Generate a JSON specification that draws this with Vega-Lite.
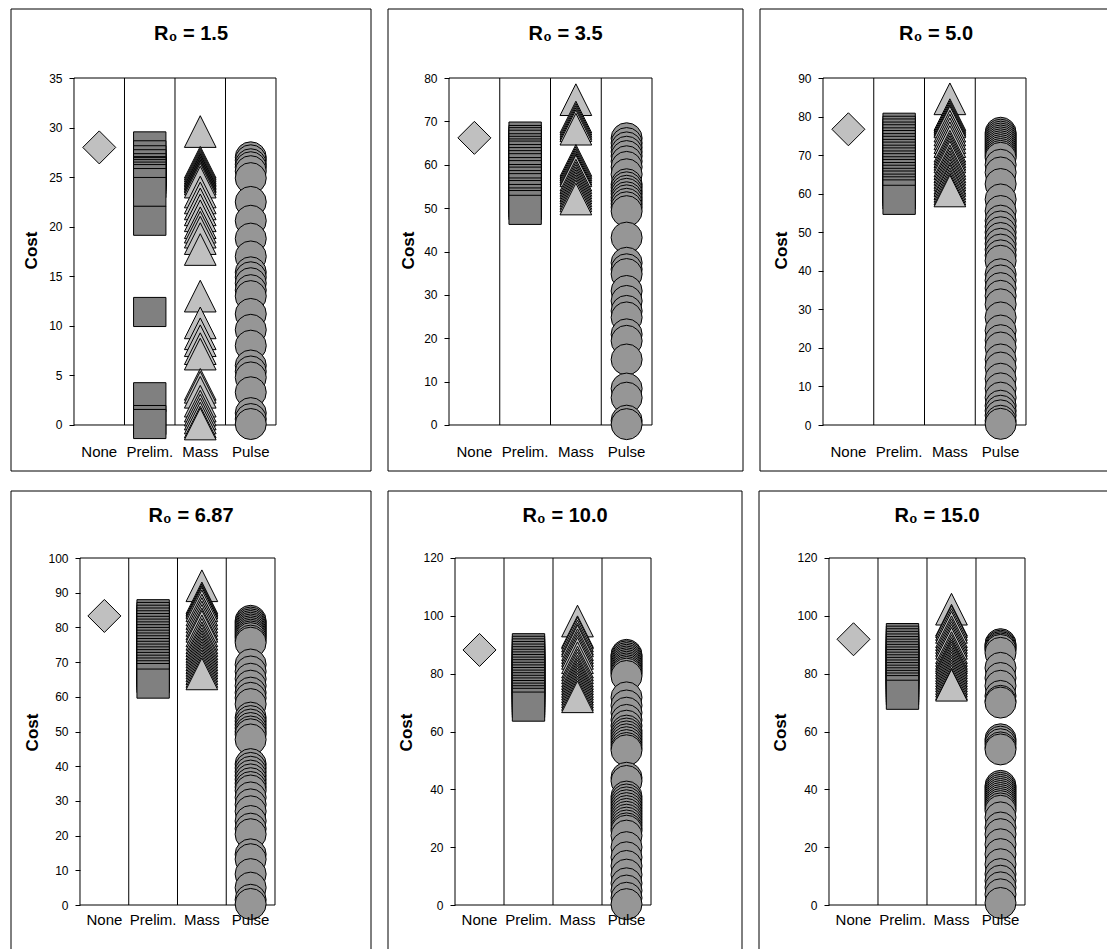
{
  "$schema": "https://vega.github.io/schema/vega-lite/v6.json",
  "padding": {"left": 10, "top": 8, "right": 0, "bottom": 0},
  "background": "#ffffff",
  "config": {
    "view": {"stroke": null},
    "font": "Liberation Sans",
    "title": {"font": "Liberation Sans", "fontSize": 20, "fontWeight": "bold", "color": "#000000", "anchor": "middle", "frame": "group", "offset": -35.5, "baseline": "alphabetic"},
    "axis": {"domain": false, "grid": false, "labelFont": "Liberation Sans", "labelColor": "#000000", "tickColor": "#000000", "titleColor": "#000000", "labelOverlap": false, "labelFlush": false},
    "axisX": {"ticks": false, "tickSize": 0, "labelPadding": 0, "labelBaseline": "middle", "labelFontSize": 15, "labelAngle": 0, "zindex": 2},
    "axisY": {"ticks": true, "tickSize": 5, "tickWidth": 1, "labelPadding": 7, "labelFontSize": 12, "titleFont": "Liberation Sans", "titleFontSize": 17, "titleFontWeight": "bold", "titleAngle": -90, "titleAlign": "center", "titleBaseline": "middle"}
  },
  "datasets": {
    "p1": [
      {"strategy": "None", "cost": 28.0},
      {"strategy": "Prelim.", "cost": 28.1}, {"strategy": "Prelim.", "cost": 27.2}, {"strategy": "Prelim.", "cost": 26.7}, {"strategy": "Prelim.", "cost": 26.3}, {"strategy": "Prelim.", "cost": 25.9}, {"strategy": "Prelim.", "cost": 25.6}, {"strategy": "Prelim.", "cost": 25.5}, {"strategy": "Prelim.", "cost": 25.3}, {"strategy": "Prelim.", "cost": 25.05}, {"strategy": "Prelim.", "cost": 24.8}, {"strategy": "Prelim.", "cost": 24.4}, {"strategy": "Prelim.", "cost": 23.5}, {"strategy": "Prelim.", "cost": 20.6}, {"strategy": "Prelim.", "cost": 11.4}, {"strategy": "Prelim.", "cost": 2.8}, {"strategy": "Prelim.", "cost": 0.5}, {"strategy": "Prelim.", "cost": 0.1},
      {"strategy": "Mass", "cost": 29.6}, {"strategy": "Mass", "cost": 26.5}, {"strategy": "Mass", "cost": 26.3}, {"strategy": "Mass", "cost": 26.1}, {"strategy": "Mass", "cost": 25.9}, {"strategy": "Mass", "cost": 25.75}, {"strategy": "Mass", "cost": 25.6}, {"strategy": "Mass", "cost": 25.45}, {"strategy": "Mass", "cost": 25.3}, {"strategy": "Mass", "cost": 25.15}, {"strategy": "Mass", "cost": 25.0}, {"strategy": "Mass", "cost": 24.8}, {"strategy": "Mass", "cost": 24.5}, {"strategy": "Mass", "cost": 23.5}, {"strategy": "Mass", "cost": 22.9}, {"strategy": "Mass", "cost": 22.3}, {"strategy": "Mass", "cost": 21.7}, {"strategy": "Mass", "cost": 21.1}, {"strategy": "Mass", "cost": 20.4}, {"strategy": "Mass", "cost": 19.95}, {"strategy": "Mass", "cost": 19.45}, {"strategy": "Mass", "cost": 18.8}, {"strategy": "Mass", "cost": 17.7}, {"strategy": "Mass", "cost": 13.0}, {"strategy": "Mass", "cost": 10.3}, {"strategy": "Mass", "cost": 9.2}, {"strategy": "Mass", "cost": 8.5}, {"strategy": "Mass", "cost": 7.7}, {"strategy": "Mass", "cost": 7.15}, {"strategy": "Mass", "cost": 4.1}, {"strategy": "Mass", "cost": 3.8}, {"strategy": "Mass", "cost": 3.3}, {"strategy": "Mass", "cost": 2.4}, {"strategy": "Mass", "cost": 1.9}, {"strategy": "Mass", "cost": 1.5}, {"strategy": "Mass", "cost": 1.1}, {"strategy": "Mass", "cost": 0.7}, {"strategy": "Mass", "cost": 0.3}, {"strategy": "Mass", "cost": 0.1},
      {"strategy": "Pulse", "cost": 27.0}, {"strategy": "Pulse", "cost": 26.7}, {"strategy": "Pulse", "cost": 26.3}, {"strategy": "Pulse", "cost": 26.0}, {"strategy": "Pulse", "cost": 25.6}, {"strategy": "Pulse", "cost": 24.9}, {"strategy": "Pulse", "cost": 22.5}, {"strategy": "Pulse", "cost": 20.6}, {"strategy": "Pulse", "cost": 18.8}, {"strategy": "Pulse", "cost": 17.0}, {"strategy": "Pulse", "cost": 15.4}, {"strategy": "Pulse", "cost": 14.9}, {"strategy": "Pulse", "cost": 14.3}, {"strategy": "Pulse", "cost": 13.6}, {"strategy": "Pulse", "cost": 13.0}, {"strategy": "Pulse", "cost": 11.2}, {"strategy": "Pulse", "cost": 9.6}, {"strategy": "Pulse", "cost": 8.0}, {"strategy": "Pulse", "cost": 6.0}, {"strategy": "Pulse", "cost": 5.4}, {"strategy": "Pulse", "cost": 4.8}, {"strategy": "Pulse", "cost": 3.3}, {"strategy": "Pulse", "cost": 1.2}, {"strategy": "Pulse", "cost": 0.6}, {"strategy": "Pulse", "cost": 0.1}
    ],
    "p2": [
      {"strategy": "None", "cost": 66.2},
      {"strategy": "Prelim.", "cost": 66.5}, {"strategy": "Prelim.", "cost": 65.7}, {"strategy": "Prelim.", "cost": 65.2}, {"strategy": "Prelim.", "cost": 64.6}, {"strategy": "Prelim.", "cost": 63.8}, {"strategy": "Prelim.", "cost": 63.2}, {"strategy": "Prelim.", "cost": 62.6}, {"strategy": "Prelim.", "cost": 62.1}, {"strategy": "Prelim.", "cost": 61.3}, {"strategy": "Prelim.", "cost": 60.6}, {"strategy": "Prelim.", "cost": 59.9}, {"strategy": "Prelim.", "cost": 59.2}, {"strategy": "Prelim.", "cost": 58.3}, {"strategy": "Prelim.", "cost": 57.6}, {"strategy": "Prelim.", "cost": 56.7}, {"strategy": "Prelim.", "cost": 56.1}, {"strategy": "Prelim.", "cost": 55.3}, {"strategy": "Prelim.", "cost": 54.6}, {"strategy": "Prelim.", "cost": 53.6}, {"strategy": "Prelim.", "cost": 53.0}, {"strategy": "Prelim.", "cost": 52.1}, {"strategy": "Prelim.", "cost": 51.3}, {"strategy": "Prelim.", "cost": 50.7}, {"strategy": "Prelim.", "cost": 49.6},
      {"strategy": "Mass", "cost": 75.0}, {"strategy": "Mass", "cost": 71.0}, {"strategy": "Mass", "cost": 70.5}, {"strategy": "Mass", "cost": 70.0}, {"strategy": "Mass", "cost": 69.5}, {"strategy": "Mass", "cost": 69.0}, {"strategy": "Mass", "cost": 68.2}, {"strategy": "Mass", "cost": 61.0}, {"strategy": "Mass", "cost": 60.5}, {"strategy": "Mass", "cost": 60.0}, {"strategy": "Mass", "cost": 59.5}, {"strategy": "Mass", "cost": 59.0}, {"strategy": "Mass", "cost": 58.6}, {"strategy": "Mass", "cost": 57.6}, {"strategy": "Mass", "cost": 57.0}, {"strategy": "Mass", "cost": 56.4}, {"strategy": "Mass", "cost": 55.8}, {"strategy": "Mass", "cost": 55.2}, {"strategy": "Mass", "cost": 54.6}, {"strategy": "Mass", "cost": 54.0}, {"strategy": "Mass", "cost": 53.4}, {"strategy": "Mass", "cost": 52.8}, {"strategy": "Mass", "cost": 52.1},
      {"strategy": "Pulse", "cost": 66.1}, {"strategy": "Pulse", "cost": 65.0}, {"strategy": "Pulse", "cost": 64.0}, {"strategy": "Pulse", "cost": 63.0}, {"strategy": "Pulse", "cost": 62.0}, {"strategy": "Pulse", "cost": 60.8}, {"strategy": "Pulse", "cost": 59.5}, {"strategy": "Pulse", "cost": 57.8}, {"strategy": "Pulse", "cost": 55.5}, {"strategy": "Pulse", "cost": 54.8}, {"strategy": "Pulse", "cost": 54.0}, {"strategy": "Pulse", "cost": 53.3}, {"strategy": "Pulse", "cost": 52.5}, {"strategy": "Pulse", "cost": 51.8}, {"strategy": "Pulse", "cost": 51.0}, {"strategy": "Pulse", "cost": 50.2}, {"strategy": "Pulse", "cost": 49.3}, {"strategy": "Pulse", "cost": 43.2}, {"strategy": "Pulse", "cost": 37.4}, {"strategy": "Pulse", "cost": 35.9}, {"strategy": "Pulse", "cost": 34.8}, {"strategy": "Pulse", "cost": 30.9}, {"strategy": "Pulse", "cost": 28.6}, {"strategy": "Pulse", "cost": 26.3}, {"strategy": "Pulse", "cost": 24.8}, {"strategy": "Pulse", "cost": 20.9}, {"strategy": "Pulse", "cost": 19.4}, {"strategy": "Pulse", "cost": 15.1}, {"strategy": "Pulse", "cost": 8.4}, {"strategy": "Pulse", "cost": 6.3}, {"strategy": "Pulse", "cost": 1.0}, {"strategy": "Pulse", "cost": 0.2}
    ],
    "p3": [
      {"strategy": "None", "cost": 76.7},
      {"strategy": "Prelim.", "cost": 77.1}, {"strategy": "Prelim.", "cost": 76.3}, {"strategy": "Prelim.", "cost": 75.6}, {"strategy": "Prelim.", "cost": 74.8}, {"strategy": "Prelim.", "cost": 74.1}, {"strategy": "Prelim.", "cost": 73.3}, {"strategy": "Prelim.", "cost": 72.6}, {"strategy": "Prelim.", "cost": 71.8}, {"strategy": "Prelim.", "cost": 71.1}, {"strategy": "Prelim.", "cost": 70.3}, {"strategy": "Prelim.", "cost": 69.6}, {"strategy": "Prelim.", "cost": 68.8}, {"strategy": "Prelim.", "cost": 68.1}, {"strategy": "Prelim.", "cost": 67.3}, {"strategy": "Prelim.", "cost": 66.6}, {"strategy": "Prelim.", "cost": 65.8}, {"strategy": "Prelim.", "cost": 65.1}, {"strategy": "Prelim.", "cost": 64.3}, {"strategy": "Prelim.", "cost": 63.6}, {"strategy": "Prelim.", "cost": 62.8}, {"strategy": "Prelim.", "cost": 62.1}, {"strategy": "Prelim.", "cost": 61.3}, {"strategy": "Prelim.", "cost": 60.6}, {"strategy": "Prelim.", "cost": 59.8}, {"strategy": "Prelim.", "cost": 58.4},
      {"strategy": "Mass", "cost": 84.6}, {"strategy": "Mass", "cost": 80.5}, {"strategy": "Mass", "cost": 80.0}, {"strategy": "Mass", "cost": 79.5}, {"strategy": "Mass", "cost": 79.0}, {"strategy": "Mass", "cost": 78.6}, {"strategy": "Mass", "cost": 77.5}, {"strategy": "Mass", "cost": 76.5}, {"strategy": "Mass", "cost": 75.5}, {"strategy": "Mass", "cost": 74.5}, {"strategy": "Mass", "cost": 73.5}, {"strategy": "Mass", "cost": 72.3}, {"strategy": "Mass", "cost": 71.6}, {"strategy": "Mass", "cost": 70.9}, {"strategy": "Mass", "cost": 70.2}, {"strategy": "Mass", "cost": 69.5}, {"strategy": "Mass", "cost": 68.5}, {"strategy": "Mass", "cost": 67.8}, {"strategy": "Mass", "cost": 67.0}, {"strategy": "Mass", "cost": 66.3}, {"strategy": "Mass", "cost": 65.5}, {"strategy": "Mass", "cost": 64.8}, {"strategy": "Mass", "cost": 64.0}, {"strategy": "Mass", "cost": 63.4}, {"strategy": "Mass", "cost": 62.6}, {"strategy": "Mass", "cost": 61.9}, {"strategy": "Mass", "cost": 61.2}, {"strategy": "Mass", "cost": 60.7},
      {"strategy": "Pulse", "cost": 75.8}, {"strategy": "Pulse", "cost": 75.3}, {"strategy": "Pulse", "cost": 74.8}, {"strategy": "Pulse", "cost": 74.3}, {"strategy": "Pulse", "cost": 73.8}, {"strategy": "Pulse", "cost": 73.3}, {"strategy": "Pulse", "cost": 72.8}, {"strategy": "Pulse", "cost": 72.3}, {"strategy": "Pulse", "cost": 71.8}, {"strategy": "Pulse", "cost": 71.3}, {"strategy": "Pulse", "cost": 70.8}, {"strategy": "Pulse", "cost": 70.3}, {"strategy": "Pulse", "cost": 69.8}, {"strategy": "Pulse", "cost": 69.3}, {"strategy": "Pulse", "cost": 67.5}, {"strategy": "Pulse", "cost": 65.5}, {"strategy": "Pulse", "cost": 62.5}, {"strategy": "Pulse", "cost": 58.5}, {"strategy": "Pulse", "cost": 55.5}, {"strategy": "Pulse", "cost": 53.0}, {"strategy": "Pulse", "cost": 51.5}, {"strategy": "Pulse", "cost": 50.0}, {"strategy": "Pulse", "cost": 48.5}, {"strategy": "Pulse", "cost": 47.0}, {"strategy": "Pulse", "cost": 45.5}, {"strategy": "Pulse", "cost": 44.0}, {"strategy": "Pulse", "cost": 42.6}, {"strategy": "Pulse", "cost": 39.1}, {"strategy": "Pulse", "cost": 37.5}, {"strategy": "Pulse", "cost": 35.5}, {"strategy": "Pulse", "cost": 33.5}, {"strategy": "Pulse", "cost": 31.3}, {"strategy": "Pulse", "cost": 27.9}, {"strategy": "Pulse", "cost": 24.5}, {"strategy": "Pulse", "cost": 22.0}, {"strategy": "Pulse", "cost": 20.1}, {"strategy": "Pulse", "cost": 17.0}, {"strategy": "Pulse", "cost": 14.9}, {"strategy": "Pulse", "cost": 12.0}, {"strategy": "Pulse", "cost": 9.5}, {"strategy": "Pulse", "cost": 7.1}, {"strategy": "Pulse", "cost": 5.0}, {"strategy": "Pulse", "cost": 3.7}, {"strategy": "Pulse", "cost": 2.5}, {"strategy": "Pulse", "cost": 1.1}, {"strategy": "Pulse", "cost": 0.3}
    ],
    "p4": [
      {"strategy": "None", "cost": 83.3},
      {"strategy": "Prelim.", "cost": 83.8}, {"strategy": "Prelim.", "cost": 83.0}, {"strategy": "Prelim.", "cost": 82.2}, {"strategy": "Prelim.", "cost": 81.4}, {"strategy": "Prelim.", "cost": 80.6}, {"strategy": "Prelim.", "cost": 79.8}, {"strategy": "Prelim.", "cost": 79.0}, {"strategy": "Prelim.", "cost": 78.2}, {"strategy": "Prelim.", "cost": 77.4}, {"strategy": "Prelim.", "cost": 76.6}, {"strategy": "Prelim.", "cost": 75.8}, {"strategy": "Prelim.", "cost": 75.0}, {"strategy": "Prelim.", "cost": 74.2}, {"strategy": "Prelim.", "cost": 73.4}, {"strategy": "Prelim.", "cost": 72.6}, {"strategy": "Prelim.", "cost": 71.8}, {"strategy": "Prelim.", "cost": 71.0}, {"strategy": "Prelim.", "cost": 70.2}, {"strategy": "Prelim.", "cost": 69.4}, {"strategy": "Prelim.", "cost": 68.6}, {"strategy": "Prelim.", "cost": 67.8}, {"strategy": "Prelim.", "cost": 67.0}, {"strategy": "Prelim.", "cost": 66.2}, {"strategy": "Prelim.", "cost": 65.4}, {"strategy": "Prelim.", "cost": 63.8},
      {"strategy": "Mass", "cost": 92.0}, {"strategy": "Mass", "cost": 88.5}, {"strategy": "Mass", "cost": 88.0}, {"strategy": "Mass", "cost": 87.5}, {"strategy": "Mass", "cost": 87.0}, {"strategy": "Mass", "cost": 86.2}, {"strategy": "Mass", "cost": 85.0}, {"strategy": "Mass", "cost": 84.0}, {"strategy": "Mass", "cost": 83.0}, {"strategy": "Mass", "cost": 82.0}, {"strategy": "Mass", "cost": 81.0}, {"strategy": "Mass", "cost": 80.3}, {"strategy": "Mass", "cost": 79.0}, {"strategy": "Mass", "cost": 78.0}, {"strategy": "Mass", "cost": 77.0}, {"strategy": "Mass", "cost": 76.2}, {"strategy": "Mass", "cost": 75.3}, {"strategy": "Mass", "cost": 74.5}, {"strategy": "Mass", "cost": 73.7}, {"strategy": "Mass", "cost": 72.9}, {"strategy": "Mass", "cost": 72.1}, {"strategy": "Mass", "cost": 71.3}, {"strategy": "Mass", "cost": 70.5}, {"strategy": "Mass", "cost": 69.7}, {"strategy": "Mass", "cost": 68.9}, {"strategy": "Mass", "cost": 68.1}, {"strategy": "Mass", "cost": 67.3}, {"strategy": "Mass", "cost": 66.6},
      {"strategy": "Pulse", "cost": 81.9}, {"strategy": "Pulse", "cost": 81.4}, {"strategy": "Pulse", "cost": 80.9}, {"strategy": "Pulse", "cost": 80.4}, {"strategy": "Pulse", "cost": 79.9}, {"strategy": "Pulse", "cost": 79.4}, {"strategy": "Pulse", "cost": 78.9}, {"strategy": "Pulse", "cost": 78.4}, {"strategy": "Pulse", "cost": 77.9}, {"strategy": "Pulse", "cost": 77.4}, {"strategy": "Pulse", "cost": 76.9}, {"strategy": "Pulse", "cost": 76.2}, {"strategy": "Pulse", "cost": 75.6}, {"strategy": "Pulse", "cost": 69.3}, {"strategy": "Pulse", "cost": 67.3}, {"strategy": "Pulse", "cost": 65.2}, {"strategy": "Pulse", "cost": 63.2}, {"strategy": "Pulse", "cost": 61.2}, {"strategy": "Pulse", "cost": 59.7}, {"strategy": "Pulse", "cost": 57.9}, {"strategy": "Pulse", "cost": 54.0}, {"strategy": "Pulse", "cost": 53.0}, {"strategy": "Pulse", "cost": 52.0}, {"strategy": "Pulse", "cost": 51.0}, {"strategy": "Pulse", "cost": 50.0}, {"strategy": "Pulse", "cost": 49.2}, {"strategy": "Pulse", "cost": 47.7}, {"strategy": "Pulse", "cost": 40.6}, {"strategy": "Pulse", "cost": 39.5}, {"strategy": "Pulse", "cost": 38.4}, {"strategy": "Pulse", "cost": 37.3}, {"strategy": "Pulse", "cost": 36.2}, {"strategy": "Pulse", "cost": 35.1}, {"strategy": "Pulse", "cost": 34.0}, {"strategy": "Pulse", "cost": 33.0}, {"strategy": "Pulse", "cost": 31.0}, {"strategy": "Pulse", "cost": 29.0}, {"strategy": "Pulse", "cost": 27.0}, {"strategy": "Pulse", "cost": 24.2}, {"strategy": "Pulse", "cost": 22.0}, {"strategy": "Pulse", "cost": 20.4}, {"strategy": "Pulse", "cost": 14.6}, {"strategy": "Pulse", "cost": 13.2}, {"strategy": "Pulse", "cost": 8.9}, {"strategy": "Pulse", "cost": 5.0}, {"strategy": "Pulse", "cost": 1.5}, {"strategy": "Pulse", "cost": 0.3}
    ],
    "p5": [
      {"strategy": "None", "cost": 88.2},
      {"strategy": "Prelim.", "cost": 88.8}, {"strategy": "Prelim.", "cost": 87.9}, {"strategy": "Prelim.", "cost": 87.0}, {"strategy": "Prelim.", "cost": 86.1}, {"strategy": "Prelim.", "cost": 85.2}, {"strategy": "Prelim.", "cost": 84.3}, {"strategy": "Prelim.", "cost": 83.4}, {"strategy": "Prelim.", "cost": 82.5}, {"strategy": "Prelim.", "cost": 81.6}, {"strategy": "Prelim.", "cost": 80.7}, {"strategy": "Prelim.", "cost": 79.8}, {"strategy": "Prelim.", "cost": 78.9}, {"strategy": "Prelim.", "cost": 78.0}, {"strategy": "Prelim.", "cost": 77.1}, {"strategy": "Prelim.", "cost": 76.2}, {"strategy": "Prelim.", "cost": 75.3}, {"strategy": "Prelim.", "cost": 74.4}, {"strategy": "Prelim.", "cost": 73.5}, {"strategy": "Prelim.", "cost": 72.6}, {"strategy": "Prelim.", "cost": 71.7}, {"strategy": "Prelim.", "cost": 70.8}, {"strategy": "Prelim.", "cost": 69.9}, {"strategy": "Prelim.", "cost": 68.6},
      {"strategy": "Mass", "cost": 98.2}, {"strategy": "Mass", "cost": 94.5}, {"strategy": "Mass", "cost": 94.0}, {"strategy": "Mass", "cost": 93.0}, {"strategy": "Mass", "cost": 92.0}, {"strategy": "Mass", "cost": 91.3}, {"strategy": "Mass", "cost": 90.0}, {"strategy": "Mass", "cost": 89.0}, {"strategy": "Mass", "cost": 88.0}, {"strategy": "Mass", "cost": 87.0}, {"strategy": "Mass", "cost": 85.5}, {"strategy": "Mass", "cost": 84.0}, {"strategy": "Mass", "cost": 83.0}, {"strategy": "Mass", "cost": 82.0}, {"strategy": "Mass", "cost": 80.9}, {"strategy": "Mass", "cost": 80.0}, {"strategy": "Mass", "cost": 79.1}, {"strategy": "Mass", "cost": 78.2}, {"strategy": "Mass", "cost": 77.3}, {"strategy": "Mass", "cost": 76.4}, {"strategy": "Mass", "cost": 75.5}, {"strategy": "Mass", "cost": 74.6}, {"strategy": "Mass", "cost": 73.7}, {"strategy": "Mass", "cost": 72.8}, {"strategy": "Mass", "cost": 72.0},
      {"strategy": "Pulse", "cost": 86.5}, {"strategy": "Pulse", "cost": 86.0}, {"strategy": "Pulse", "cost": 85.4}, {"strategy": "Pulse", "cost": 84.8}, {"strategy": "Pulse", "cost": 84.2}, {"strategy": "Pulse", "cost": 83.6}, {"strategy": "Pulse", "cost": 83.0}, {"strategy": "Pulse", "cost": 82.4}, {"strategy": "Pulse", "cost": 81.8}, {"strategy": "Pulse", "cost": 81.2}, {"strategy": "Pulse", "cost": 80.6}, {"strategy": "Pulse", "cost": 80.0}, {"strategy": "Pulse", "cost": 79.2}, {"strategy": "Pulse", "cost": 71.8}, {"strategy": "Pulse", "cost": 69.0}, {"strategy": "Pulse", "cost": 66.5}, {"strategy": "Pulse", "cost": 64.0}, {"strategy": "Pulse", "cost": 62.0}, {"strategy": "Pulse", "cost": 60.3}, {"strategy": "Pulse", "cost": 59.3}, {"strategy": "Pulse", "cost": 58.3}, {"strategy": "Pulse", "cost": 57.3}, {"strategy": "Pulse", "cost": 56.3}, {"strategy": "Pulse", "cost": 55.3}, {"strategy": "Pulse", "cost": 54.3}, {"strategy": "Pulse", "cost": 53.5}, {"strategy": "Pulse", "cost": 44.0}, {"strategy": "Pulse", "cost": 42.9}, {"strategy": "Pulse", "cost": 37.5}, {"strategy": "Pulse", "cost": 36.5}, {"strategy": "Pulse", "cost": 35.5}, {"strategy": "Pulse", "cost": 34.5}, {"strategy": "Pulse", "cost": 33.5}, {"strategy": "Pulse", "cost": 32.5}, {"strategy": "Pulse", "cost": 31.5}, {"strategy": "Pulse", "cost": 30.5}, {"strategy": "Pulse", "cost": 29.5}, {"strategy": "Pulse", "cost": 28.5}, {"strategy": "Pulse", "cost": 27.5}, {"strategy": "Pulse", "cost": 26.5}, {"strategy": "Pulse", "cost": 25.7}, {"strategy": "Pulse", "cost": 24.0}, {"strategy": "Pulse", "cost": 20.0}, {"strategy": "Pulse", "cost": 16.5}, {"strategy": "Pulse", "cost": 13.5}, {"strategy": "Pulse", "cost": 10.5}, {"strategy": "Pulse", "cost": 7.5}, {"strategy": "Pulse", "cost": 5.0}, {"strategy": "Pulse", "cost": 2.5}, {"strategy": "Pulse", "cost": 0.3}
    ],
    "p6": [
      {"strategy": "None", "cost": 91.9},
      {"strategy": "Prelim.", "cost": 92.3}, {"strategy": "Prelim.", "cost": 91.4}, {"strategy": "Prelim.", "cost": 90.5}, {"strategy": "Prelim.", "cost": 89.6}, {"strategy": "Prelim.", "cost": 88.7}, {"strategy": "Prelim.", "cost": 87.8}, {"strategy": "Prelim.", "cost": 86.9}, {"strategy": "Prelim.", "cost": 86.0}, {"strategy": "Prelim.", "cost": 85.1}, {"strategy": "Prelim.", "cost": 84.2}, {"strategy": "Prelim.", "cost": 83.3}, {"strategy": "Prelim.", "cost": 82.4}, {"strategy": "Prelim.", "cost": 81.5}, {"strategy": "Prelim.", "cost": 80.6}, {"strategy": "Prelim.", "cost": 79.7}, {"strategy": "Prelim.", "cost": 78.8}, {"strategy": "Prelim.", "cost": 77.9}, {"strategy": "Prelim.", "cost": 77.0}, {"strategy": "Prelim.", "cost": 76.1}, {"strategy": "Prelim.", "cost": 75.2}, {"strategy": "Prelim.", "cost": 74.3}, {"strategy": "Prelim.", "cost": 72.7},
      {"strategy": "Mass", "cost": 102.3}, {"strategy": "Mass", "cost": 98.5}, {"strategy": "Mass", "cost": 98.0}, {"strategy": "Mass", "cost": 97.0}, {"strategy": "Mass", "cost": 96.0}, {"strategy": "Mass", "cost": 94.5}, {"strategy": "Mass", "cost": 93.5}, {"strategy": "Mass", "cost": 92.5}, {"strategy": "Mass", "cost": 91.5}, {"strategy": "Mass", "cost": 90.5}, {"strategy": "Mass", "cost": 89.0}, {"strategy": "Mass", "cost": 88.0}, {"strategy": "Mass", "cost": 87.0}, {"strategy": "Mass", "cost": 86.2}, {"strategy": "Mass", "cost": 85.5}, {"strategy": "Mass", "cost": 84.6}, {"strategy": "Mass", "cost": 83.7}, {"strategy": "Mass", "cost": 82.8}, {"strategy": "Mass", "cost": 81.9}, {"strategy": "Mass", "cost": 81.0}, {"strategy": "Mass", "cost": 80.1}, {"strategy": "Mass", "cost": 79.2}, {"strategy": "Mass", "cost": 78.3}, {"strategy": "Mass", "cost": 77.4}, {"strategy": "Mass", "cost": 76.5}, {"strategy": "Mass", "cost": 76.0},
      {"strategy": "Pulse", "cost": 90.2}, {"strategy": "Pulse", "cost": 89.7}, {"strategy": "Pulse", "cost": 89.2}, {"strategy": "Pulse", "cost": 88.7}, {"strategy": "Pulse", "cost": 88.2}, {"strategy": "Pulse", "cost": 87.2}, {"strategy": "Pulse", "cost": 82.0}, {"strategy": "Pulse", "cost": 78.5}, {"strategy": "Pulse", "cost": 75.8}, {"strategy": "Pulse", "cost": 72.3}, {"strategy": "Pulse", "cost": 70.6}, {"strategy": "Pulse", "cost": 70.0}, {"strategy": "Pulse", "cost": 57.3}, {"strategy": "Pulse", "cost": 56.5}, {"strategy": "Pulse", "cost": 55.6}, {"strategy": "Pulse", "cost": 54.5}, {"strategy": "Pulse", "cost": 53.8}, {"strategy": "Pulse", "cost": 41.2}, {"strategy": "Pulse", "cost": 40.5}, {"strategy": "Pulse", "cost": 39.8}, {"strategy": "Pulse", "cost": 39.1}, {"strategy": "Pulse", "cost": 38.4}, {"strategy": "Pulse", "cost": 37.7}, {"strategy": "Pulse", "cost": 37.0}, {"strategy": "Pulse", "cost": 36.3}, {"strategy": "Pulse", "cost": 35.6}, {"strategy": "Pulse", "cost": 34.9}, {"strategy": "Pulse", "cost": 34.2}, {"strategy": "Pulse", "cost": 33.4}, {"strategy": "Pulse", "cost": 32.6}, {"strategy": "Pulse", "cost": 30.3}, {"strategy": "Pulse", "cost": 26.8}, {"strategy": "Pulse", "cost": 24.5}, {"strategy": "Pulse", "cost": 21.0}, {"strategy": "Pulse", "cost": 17.6}, {"strategy": "Pulse", "cost": 14.1}, {"strategy": "Pulse", "cost": 10.7}, {"strategy": "Pulse", "cost": 8.4}, {"strategy": "Pulse", "cost": 6.1}, {"strategy": "Pulse", "cost": 3.7}, {"strategy": "Pulse", "cost": 0.7}
    ]
  },
  "spacing": 18,
  "vconcat": [
    {
      "spacing": 17,
      "bounds": "flush",
      "hconcat": [
        {
          "width": 360, "height": 462,
          "title": {"text": "R₀ = 1.5"},
          "layer": [
            {
              "data": {"values": [{}]},
              "layer": [
                {"mark": {"type": "rule", "color": "#000000"}, "encoding": {"x": {"datum": -0.74752, "type": "quantitative", "scale": {"domain": [-0.74752, 6.38119], "nice": false, "zero": false}, "axis": null}, "y": {"datum": -4.6398, "type": "quantitative", "axis": null}, "y2": {"datum": 41.9597}}},
                {"mark": {"type": "rule", "color": "#000000"}, "encoding": {"x": {"datum": 6.38119, "type": "quantitative", "axis": null}, "y": {"datum": -4.6398, "type": "quantitative", "axis": null}, "y2": {"datum": 41.9597}}},
                {"mark": {"type": "rule", "color": "#000000"}, "encoding": {"x": {"datum": -0.74752, "type": "quantitative", "axis": null}, "x2": {"datum": 6.38119}, "y": {"datum": 41.9597, "type": "quantitative", "axis": null}}},
                {"mark": {"type": "rule", "color": "#000000"}, "encoding": {"x": {"datum": -0.74752, "type": "quantitative", "axis": null}, "x2": {"datum": 6.38119}, "y": {"datum": -4.6398, "type": "quantitative", "axis": null}}},
                {"mark": {"type": "rect", "fillOpacity": 0, "stroke": "#000000", "strokeWidth": 1}, "encoding": {"x": {"datum": 0.5, "type": "quantitative", "axis": null}, "x2": {"datum": 4.5}, "y": {"datum": 0, "type": "quantitative", "axis": null}, "y2": {"datum": 35}}},
                {"mark": {"type": "rule", "color": "#000000"}, "encoding": {"x": {"datum": 1.5, "type": "quantitative", "axis": null}, "y": {"datum": 0, "type": "quantitative", "axis": null}, "y2": {"datum": 35}}},
                {"mark": {"type": "rule", "color": "#000000"}, "encoding": {"x": {"datum": 2.5, "type": "quantitative", "axis": null}, "y": {"datum": 0, "type": "quantitative", "axis": null}, "y2": {"datum": 35}}},
                {"mark": {"type": "rule", "color": "#000000"}, "encoding": {"x": {"datum": 3.5, "type": "quantitative", "axis": null}, "y": {"datum": 0, "type": "quantitative", "axis": null}, "y2": {"datum": 35}}}
              ]
            },
            {
              "data": {"name": "p1"},
              "mark": {"type": "point", "filled": true, "stroke": "#000000", "strokeWidth": 1, "opacity": 1},
              "encoding": {
                "x": {"field": "strategy", "type": "nominal", "scale": {"type": "band", "domain": ["None", "Prelim.", "Mass", "Pulse"], "range": [63, 265], "paddingInner": 0, "paddingOuter": 0}, "axis": {"orient": "bottom", "offset": -20, "title": null, "zindex": 2}},
                "y": {"field": "cost", "type": "quantitative", "scale": {"domain": [-4.6398, 41.9597], "nice": false, "zero": false}, "axis": {"orient": "left", "offset": -63, "values": [0, 5, 10, 15, 20, 25, 30, 35], "labelFontSize": 12, "title": "Cost", "titleX": -42.5, "titleY": 241}},
                "shape": {"field": "strategy", "type": "nominal", "scale": {"domain": ["None", "Prelim.", "Mass", "Pulse"], "range": ["diamond", "M-1,-0.9L1,-0.9L1,0.9L-1,0.9Z", "M0,-1L1,1L-1,1Z", "circle"]}, "legend": null},
                "fill": {"field": "strategy", "type": "nominal", "scale": {"domain": ["None", "Prelim.", "Mass", "Pulse"], "range": ["#c0c0c0", "#808080", "#c0c0c0", "#969696"]}, "legend": null},
                "size": {"field": "strategy", "type": "ordinal", "scale": {"domain": ["None", "Prelim.", "Mass", "Pulse"], "range": [1089, 961, 930, 1089]}, "legend": null},
                "order": {"field": "cost", "sort": "descending"}
              }
            }
          ],
          "resolve": {"scale": {"x": "independent"}, "axis": {"x": "independent", "y": "independent"}}
        },
        {
          "width": 355, "height": 462,
          "title": {"text": "R₀ = 3.5"},
          "layer": [
            {
              "data": {"values": [{}]},
              "layer": [
                {"mark": {"type": "rule", "color": "#000000"}, "encoding": {"x": {"datum": -0.70197, "type": "quantitative", "scale": {"domain": [-0.70197, 6.29310], "nice": false, "zero": false}, "axis": null}, "y": {"datum": -10.6052, "type": "quantitative", "axis": null}, "y2": {"datum": 95.9078}}},
                {"mark": {"type": "rule", "color": "#000000"}, "encoding": {"x": {"datum": 6.29310, "type": "quantitative", "axis": null}, "y": {"datum": -10.6052, "type": "quantitative", "axis": null}, "y2": {"datum": 95.9078}}},
                {"mark": {"type": "rule", "color": "#000000"}, "encoding": {"x": {"datum": -0.70197, "type": "quantitative", "axis": null}, "x2": {"datum": 6.29310}, "y": {"datum": 95.9078, "type": "quantitative", "axis": null}}},
                {"mark": {"type": "rule", "color": "#000000"}, "encoding": {"x": {"datum": -0.70197, "type": "quantitative", "axis": null}, "x2": {"datum": 6.29310}, "y": {"datum": -10.6052, "type": "quantitative", "axis": null}}},
                {"mark": {"type": "rect", "fillOpacity": 0, "stroke": "#000000", "strokeWidth": 1}, "encoding": {"x": {"datum": 0.5, "type": "quantitative", "axis": null}, "x2": {"datum": 4.5}, "y": {"datum": 0, "type": "quantitative", "axis": null}, "y2": {"datum": 80}}},
                {"mark": {"type": "rule", "color": "#000000"}, "encoding": {"x": {"datum": 1.5, "type": "quantitative", "axis": null}, "y": {"datum": 0, "type": "quantitative", "axis": null}, "y2": {"datum": 80}}},
                {"mark": {"type": "rule", "color": "#000000"}, "encoding": {"x": {"datum": 2.5, "type": "quantitative", "axis": null}, "y": {"datum": 0, "type": "quantitative", "axis": null}, "y2": {"datum": 80}}},
                {"mark": {"type": "rule", "color": "#000000"}, "encoding": {"x": {"datum": 3.5, "type": "quantitative", "axis": null}, "y": {"datum": 0, "type": "quantitative", "axis": null}, "y2": {"datum": 80}}}
              ]
            },
            {
              "data": {"name": "p2"},
              "mark": {"type": "point", "filled": true, "stroke": "#000000", "strokeWidth": 1, "opacity": 1},
              "encoding": {
                "x": {"field": "strategy", "type": "nominal", "scale": {"type": "band", "domain": ["None", "Prelim.", "Mass", "Pulse"], "range": [61, 264], "paddingInner": 0, "paddingOuter": 0}, "axis": {"orient": "bottom", "offset": -20, "title": null, "zindex": 2}},
                "y": {"field": "cost", "type": "quantitative", "scale": {"domain": [-10.6052, 95.9078], "nice": false, "zero": false}, "axis": {"orient": "left", "offset": -61, "values": [0, 10, 20, 30, 40, 50, 60, 70, 80], "labelFontSize": 12, "title": "Cost", "titleX": -41, "titleY": 241}},
                "shape": {"field": "strategy", "type": "nominal", "scale": {"domain": ["None", "Prelim.", "Mass", "Pulse"], "range": ["diamond", "M-1,-0.9L1,-0.9L1,0.9L-1,0.9Z", "M0,-1L1,1L-1,1Z", "circle"]}, "legend": null},
                "fill": {"field": "strategy", "type": "nominal", "scale": {"domain": ["None", "Prelim.", "Mass", "Pulse"], "range": ["#c0c0c0", "#808080", "#c0c0c0", "#969696"]}, "legend": null},
                "size": {"field": "strategy", "type": "ordinal", "scale": {"domain": ["None", "Prelim.", "Mass", "Pulse"], "range": [1089, 961, 930, 1089]}, "legend": null},
                "order": {"field": "cost", "sort": "descending"}
              }
            }
          ],
          "resolve": {"scale": {"x": "independent"}, "axis": {"x": "independent", "y": "independent"}}
        },
        {
          "width": 347, "height": 462,
          "title": {"text": "R₀ = 5.0", "dx": 2.5},
          "layer": [
            {
              "data": {"values": [{}]},
              "layer": [
                {"mark": {"type": "rule", "color": "#000000"}, "encoding": {"x": {"datum": -0.74138, "type": "quantitative", "scale": {"domain": [-0.74138, 6.09606], "nice": false, "zero": false}, "axis": null}, "y": {"datum": -11.9308, "type": "quantitative", "axis": null}, "y2": {"datum": 107.8963}}},
                {"mark": {"type": "rule", "color": "#000000"}, "encoding": {"x": {"datum": -0.74138, "type": "quantitative", "axis": null}, "x2": {"datum": 6.09606}, "y": {"datum": 107.8963, "type": "quantitative", "axis": null}}},
                {"mark": {"type": "rule", "color": "#000000"}, "encoding": {"x": {"datum": -0.74138, "type": "quantitative", "axis": null}, "x2": {"datum": 6.09606}, "y": {"datum": -11.9308, "type": "quantitative", "axis": null}}},
                {"mark": {"type": "rect", "fillOpacity": 0, "stroke": "#000000", "strokeWidth": 1}, "encoding": {"x": {"datum": 0.5, "type": "quantitative", "axis": null}, "x2": {"datum": 4.5}, "y": {"datum": 0, "type": "quantitative", "axis": null}, "y2": {"datum": 90}}},
                {"mark": {"type": "rule", "color": "#000000"}, "encoding": {"x": {"datum": 1.5, "type": "quantitative", "axis": null}, "y": {"datum": 0, "type": "quantitative", "axis": null}, "y2": {"datum": 90}}},
                {"mark": {"type": "rule", "color": "#000000"}, "encoding": {"x": {"datum": 2.5, "type": "quantitative", "axis": null}, "y": {"datum": 0, "type": "quantitative", "axis": null}, "y2": {"datum": 90}}},
                {"mark": {"type": "rule", "color": "#000000"}, "encoding": {"x": {"datum": 3.5, "type": "quantitative", "axis": null}, "y": {"datum": 0, "type": "quantitative", "axis": null}, "y2": {"datum": 90}}}
              ]
            },
            {
              "data": {"name": "p3"},
              "mark": {"type": "point", "filled": true, "stroke": "#000000", "strokeWidth": 1, "opacity": 1},
              "encoding": {
                "x": {"field": "strategy", "type": "nominal", "scale": {"type": "band", "domain": ["None", "Prelim.", "Mass", "Pulse"], "range": [63, 266], "paddingInner": 0, "paddingOuter": 0}, "axis": {"orient": "bottom", "offset": -20, "title": null, "zindex": 2}},
                "y": {"field": "cost", "type": "quantitative", "scale": {"domain": [-11.9308, 107.8963], "nice": false, "zero": false}, "axis": {"orient": "left", "offset": -63, "values": [0, 10, 20, 30, 40, 50, 60, 70, 80, 90], "labelFontSize": 12, "title": "Cost", "titleX": -42, "titleY": 241}},
                "shape": {"field": "strategy", "type": "nominal", "scale": {"domain": ["None", "Prelim.", "Mass", "Pulse"], "range": ["diamond", "M-1,-0.9L1,-0.9L1,0.9L-1,0.9Z", "M0,-1L1,1L-1,1Z", "circle"]}, "legend": null},
                "fill": {"field": "strategy", "type": "nominal", "scale": {"domain": ["None", "Prelim.", "Mass", "Pulse"], "range": ["#c0c0c0", "#808080", "#c0c0c0", "#969696"]}, "legend": null},
                "size": {"field": "strategy", "type": "ordinal", "scale": {"domain": ["None", "Prelim.", "Mass", "Pulse"], "range": [1089, 961, 930, 1089]}, "legend": null},
                "order": {"field": "cost", "sort": "descending"}
              }
            }
          ],
          "resolve": {"scale": {"x": "independent"}, "axis": {"x": "independent", "y": "independent"}}
        }
      ]
    },
    {
      "spacing": 17,
      "bounds": "flush",
      "hconcat": [
        {
          "width": 360, "height": 458,
          "title": {"text": "R₀ = 6.87"},
          "layer": [
            {
              "data": {"values": [{}]},
              "layer": [
                {"mark": {"type": "rule", "color": "#000000"}, "encoding": {"x": {"datum": -0.91538, "type": "quantitative", "scale": {"domain": [-0.91538, 6.46923], "nice": false, "zero": false}, "axis": null}, "y": {"datum": -12.6801, "type": "quantitative", "axis": null}, "y2": {"datum": 119.3084}}},
                {"mark": {"type": "rule", "color": "#000000"}, "encoding": {"x": {"datum": 6.46923, "type": "quantitative", "axis": null}, "y": {"datum": -12.6801, "type": "quantitative", "axis": null}, "y2": {"datum": 119.3084}}},
                {"mark": {"type": "rule", "color": "#000000"}, "encoding": {"x": {"datum": -0.91538, "type": "quantitative", "axis": null}, "x2": {"datum": 6.46923}, "y": {"datum": 119.3084, "type": "quantitative", "axis": null}}},
                {"mark": {"type": "rect", "fillOpacity": 0, "stroke": "#000000", "strokeWidth": 1}, "encoding": {"x": {"datum": 0.5, "type": "quantitative", "axis": null}, "x2": {"datum": 4.5}, "y": {"datum": 0, "type": "quantitative", "axis": null}, "y2": {"datum": 100}}},
                {"mark": {"type": "rule", "color": "#000000"}, "encoding": {"x": {"datum": 1.5, "type": "quantitative", "axis": null}, "y": {"datum": 0, "type": "quantitative", "axis": null}, "y2": {"datum": 100}}},
                {"mark": {"type": "rule", "color": "#000000"}, "encoding": {"x": {"datum": 2.5, "type": "quantitative", "axis": null}, "y": {"datum": 0, "type": "quantitative", "axis": null}, "y2": {"datum": 100}}},
                {"mark": {"type": "rule", "color": "#000000"}, "encoding": {"x": {"datum": 3.5, "type": "quantitative", "axis": null}, "y": {"datum": 0, "type": "quantitative", "axis": null}, "y2": {"datum": 100}}}
              ]
            },
            {
              "data": {"name": "p4"},
              "mark": {"type": "point", "filled": true, "stroke": "#000000", "strokeWidth": 1, "opacity": 1},
              "encoding": {
                "x": {"field": "strategy", "type": "nominal", "scale": {"type": "band", "domain": ["None", "Prelim.", "Mass", "Pulse"], "range": [69, 264], "paddingInner": 0, "paddingOuter": 0}, "axis": {"orient": "bottom", "offset": -30, "title": null, "zindex": 2}},
                "y": {"field": "cost", "type": "quantitative", "scale": {"domain": [-12.6801, 119.3084], "nice": false, "zero": false}, "axis": {"orient": "left", "offset": -69, "values": [0, 10, 20, 30, 40, 50, 60, 70, 80, 90, 100], "labelFontSize": 12, "title": "Cost", "titleX": -48, "titleY": 241}},
                "shape": {"field": "strategy", "type": "nominal", "scale": {"domain": ["None", "Prelim.", "Mass", "Pulse"], "range": ["diamond", "M-1,-0.9L1,-0.9L1,0.9L-1,0.9Z", "M0,-1L1,1L-1,1Z", "circle"]}, "legend": null},
                "fill": {"field": "strategy", "type": "nominal", "scale": {"domain": ["None", "Prelim.", "Mass", "Pulse"], "range": ["#c0c0c0", "#808080", "#c0c0c0", "#969696"]}, "legend": null},
                "size": {"field": "strategy", "type": "ordinal", "scale": {"domain": ["None", "Prelim.", "Mass", "Pulse"], "range": [1089, 961, 930, 1089]}, "legend": null},
                "order": {"field": "cost", "sort": "descending"}
              }
            }
          ],
          "resolve": {"scale": {"x": "independent"}, "axis": {"x": "independent", "y": "independent"}}
        },
        {
          "width": 354, "height": 458,
          "title": {"text": "R₀ = 10.0"},
          "layer": [
            {
              "data": {"values": [{}]},
              "layer": [
                {"mark": {"type": "rule", "color": "#000000"}, "encoding": {"x": {"datum": -0.86735, "type": "quantitative", "scale": {"domain": [-0.86735, 6.35714], "nice": false, "zero": false}, "axis": null}, "y": {"datum": -15.2161, "type": "quantitative", "axis": null}, "y2": {"datum": 143.17}}},
                {"mark": {"type": "rule", "color": "#000000"}, "encoding": {"x": {"datum": 6.35714, "type": "quantitative", "axis": null}, "y": {"datum": -15.2161, "type": "quantitative", "axis": null}, "y2": {"datum": 143.17}}},
                {"mark": {"type": "rule", "color": "#000000"}, "encoding": {"x": {"datum": -0.86735, "type": "quantitative", "axis": null}, "x2": {"datum": 6.35714}, "y": {"datum": 143.17, "type": "quantitative", "axis": null}}},
                {"mark": {"type": "rect", "fillOpacity": 0, "stroke": "#000000", "strokeWidth": 1}, "encoding": {"x": {"datum": 0.5, "type": "quantitative", "axis": null}, "x2": {"datum": 4.5}, "y": {"datum": 0, "type": "quantitative", "axis": null}, "y2": {"datum": 120}}},
                {"mark": {"type": "rule", "color": "#000000"}, "encoding": {"x": {"datum": 1.5, "type": "quantitative", "axis": null}, "y": {"datum": 0, "type": "quantitative", "axis": null}, "y2": {"datum": 120}}},
                {"mark": {"type": "rule", "color": "#000000"}, "encoding": {"x": {"datum": 2.5, "type": "quantitative", "axis": null}, "y": {"datum": 0, "type": "quantitative", "axis": null}, "y2": {"datum": 120}}},
                {"mark": {"type": "rule", "color": "#000000"}, "encoding": {"x": {"datum": 3.5, "type": "quantitative", "axis": null}, "y": {"datum": 0, "type": "quantitative", "axis": null}, "y2": {"datum": 120}}}
              ]
            },
            {
              "data": {"name": "p5"},
              "mark": {"type": "point", "filled": true, "stroke": "#000000", "strokeWidth": 1, "opacity": 1},
              "encoding": {
                "x": {"field": "strategy", "type": "nominal", "scale": {"type": "band", "domain": ["None", "Prelim.", "Mass", "Pulse"], "range": [67, 263], "paddingInner": 0, "paddingOuter": 0}, "axis": {"orient": "bottom", "offset": -30, "title": null, "zindex": 2}},
                "y": {"field": "cost", "type": "quantitative", "scale": {"domain": [-15.2161, 143.17], "nice": false, "zero": false}, "axis": {"orient": "left", "offset": -67, "values": [0, 20, 40, 60, 80, 100, 120], "labelFontSize": 12, "title": "Cost", "titleX": -49, "titleY": 241}},
                "shape": {"field": "strategy", "type": "nominal", "scale": {"domain": ["None", "Prelim.", "Mass", "Pulse"], "range": ["diamond", "M-1,-0.9L1,-0.9L1,0.9L-1,0.9Z", "M0,-1L1,1L-1,1Z", "circle"]}, "legend": null},
                "fill": {"field": "strategy", "type": "nominal", "scale": {"domain": ["None", "Prelim.", "Mass", "Pulse"], "range": ["#c0c0c0", "#808080", "#c0c0c0", "#969696"]}, "legend": null},
                "size": {"field": "strategy", "type": "ordinal", "scale": {"domain": ["None", "Prelim.", "Mass", "Pulse"], "range": [1089, 961, 930, 1089]}, "legend": null},
                "order": {"field": "cost", "sort": "descending"}
              }
            }
          ],
          "resolve": {"scale": {"x": "independent"}, "axis": {"x": "independent", "y": "independent"}}
        },
        {
          "width": 348, "height": 458,
          "title": {"text": "R₀ = 15.0", "dx": 4},
          "layer": [
            {
              "data": {"values": [{}]},
              "layer": [
                {"mark": {"type": "rule", "color": "#000000"}, "encoding": {"x": {"datum": -0.92857, "type": "quantitative", "scale": {"domain": [-0.92857, 6.17347], "nice": false, "zero": false}, "axis": null}, "y": {"datum": -15.2161, "type": "quantitative", "axis": null}, "y2": {"datum": 143.17}}},
                {"mark": {"type": "rule", "color": "#000000"}, "encoding": {"x": {"datum": -0.92857, "type": "quantitative", "axis": null}, "x2": {"datum": 6.17347}, "y": {"datum": 143.17, "type": "quantitative", "axis": null}}},
                {"mark": {"type": "rect", "fillOpacity": 0, "stroke": "#000000", "strokeWidth": 1}, "encoding": {"x": {"datum": 0.5, "type": "quantitative", "axis": null}, "x2": {"datum": 4.5}, "y": {"datum": 0, "type": "quantitative", "axis": null}, "y2": {"datum": 120}}},
                {"mark": {"type": "rule", "color": "#000000"}, "encoding": {"x": {"datum": 1.5, "type": "quantitative", "axis": null}, "y": {"datum": 0, "type": "quantitative", "axis": null}, "y2": {"datum": 120}}},
                {"mark": {"type": "rule", "color": "#000000"}, "encoding": {"x": {"datum": 2.5, "type": "quantitative", "axis": null}, "y": {"datum": 0, "type": "quantitative", "axis": null}, "y2": {"datum": 120}}},
                {"mark": {"type": "rule", "color": "#000000"}, "encoding": {"x": {"datum": 3.5, "type": "quantitative", "axis": null}, "y": {"datum": 0, "type": "quantitative", "axis": null}, "y2": {"datum": 120}}}
              ]
            },
            {
              "data": {"name": "p6"},
              "mark": {"type": "point", "filled": true, "stroke": "#000000", "strokeWidth": 1, "opacity": 1},
              "encoding": {
                "x": {"field": "strategy", "type": "nominal", "scale": {"type": "band", "domain": ["None", "Prelim.", "Mass", "Pulse"], "range": [70, 266], "paddingInner": 0, "paddingOuter": 0}, "axis": {"orient": "bottom", "offset": -30, "title": null, "zindex": 2}},
                "y": {"field": "cost", "type": "quantitative", "scale": {"domain": [-15.2161, 143.17], "nice": false, "zero": false}, "axis": {"orient": "left", "offset": -70, "values": [0, 20, 40, 60, 80, 100, 120], "labelFontSize": 12, "title": "Cost", "titleX": -49, "titleY": 241}},
                "shape": {"field": "strategy", "type": "nominal", "scale": {"domain": ["None", "Prelim.", "Mass", "Pulse"], "range": ["diamond", "M-1,-0.9L1,-0.9L1,0.9L-1,0.9Z", "M0,-1L1,1L-1,1Z", "circle"]}, "legend": null},
                "fill": {"field": "strategy", "type": "nominal", "scale": {"domain": ["None", "Prelim.", "Mass", "Pulse"], "range": ["#c0c0c0", "#808080", "#c0c0c0", "#969696"]}, "legend": null},
                "size": {"field": "strategy", "type": "ordinal", "scale": {"domain": ["None", "Prelim.", "Mass", "Pulse"], "range": [1089, 961, 930, 1089]}, "legend": null},
                "order": {"field": "cost", "sort": "descending"}
              }
            }
          ],
          "resolve": {"scale": {"x": "independent"}, "axis": {"x": "independent", "y": "independent"}}
        }
      ]
    }
  ]
}
